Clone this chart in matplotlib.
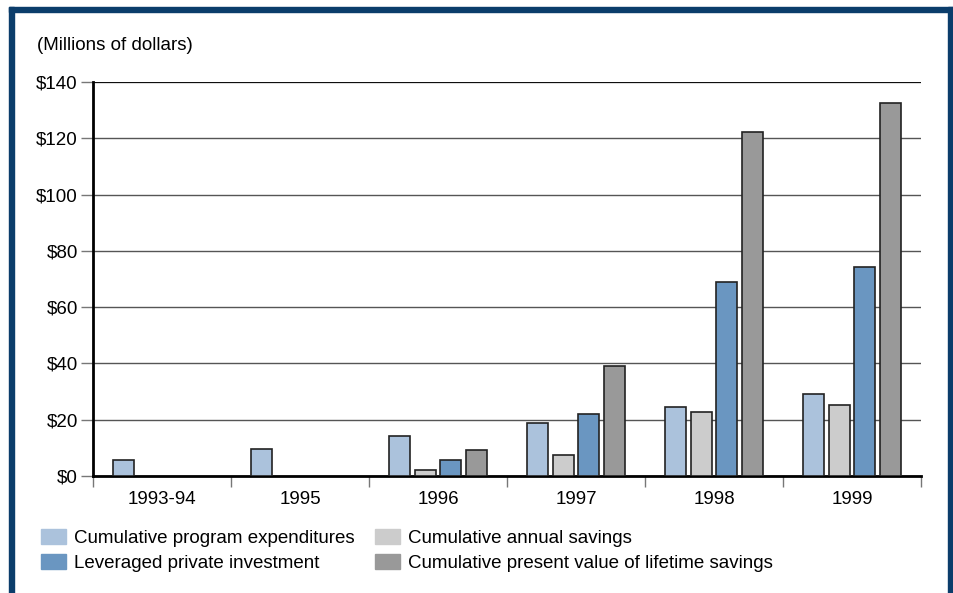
import matplotlib.pyplot as plt
import matplotlib.patches as mpatches
import numpy as np

plt.rcParams['font.family'] = ['Liberation Sans', 'DejaVu Sans']

years = ["1993-94", "1995", "1996", "1997", "1998", "1999"]
program_exp = [5.8, 9.6, 14.2, 18.7, 24.6, 29.0]
annual_sav = [0, 0, 2.1, 7.6, 22.8, 25.2]
leveraged = [0, 0, 5.7, 22.2, 69.1, 74.2]
pv_lifetime = [0, 0, 9.3, 39.0, 122.1, 132.7]

series = [
    ("Cumulative program expenditures", program_exp, "#abc2dc"),
    ("Cumulative annual savings", annual_sav, "#cccccc"),
    ("Leveraged private investment", leveraged, "#6a96c1"),
    ("Cumulative present value of lifetime savings", pv_lifetime, "#999999"),
]

fig = plt.figure(figsize=(9.54, 5.93), dpi=100)
fig.patch.set_facecolor("white")

# navy frame around the figure (left, top, right)
navy = "#0b3d6b"
fig.patches.append(mpatches.Rectangle((9/954, 0), 5/954, 1 - 7/593, transform=fig.transFigure,
                                      color=navy, zorder=0))
fig.patches.append(mpatches.Rectangle((9/954, 1 - 12/593), 944/954, 5/593, transform=fig.transFigure,
                                      color=navy, zorder=0))
fig.patches.append(mpatches.Rectangle((948/954, 0), 6/954, 1 - 7/593, transform=fig.transFigure,
                                      color=navy, zorder=0))

ax = fig.add_axes([93/954, 117/593, 828/954, 394/593])

x = np.arange(len(years))
width = 0.152
pitch = 0.188
for i, (name, vals, col) in enumerate(series):
    vals = np.array(vals, dtype=float)
    mask = vals > 0
    ax.bar(x[mask] + (i - 1.5) * pitch, vals[mask], width, color=col,
           edgecolor="#222222", linewidth=1.2, zorder=3, label=name)

ax.set_xlim(-0.5, len(years) - 0.5)
ax.set_ylim(0, 140)
ax.set_yticks(np.arange(0, 141, 20))
ax.set_yticklabels([f"${v}" for v in range(0, 141, 20)], fontsize=13.5)
ax.yaxis.grid(True, color="#555555", linewidth=1.0, zorder=0)
ax.axhline(140, color="black", linewidth=1.2, zorder=1)
ax.set_axisbelow(True)

ax.set_xticks(x)
ax.set_xticklabels(years, fontsize=13.5)
ax.set_xticks(np.arange(-0.5, len(years)), minor=True)
ax.tick_params(axis="x", which="major", length=0, pad=11)
ax.tick_params(axis="x", which="minor", length=8, width=1, color="#777777", direction="out")
ax.tick_params(axis="y", length=9, width=1, color="#777777", pad=2)

for s in ["top", "right"]:
    ax.spines[s].set_visible(False)
ax.spines["left"].set_linewidth(2)
ax.spines["bottom"].set_linewidth(2)

fig.text(37/954, 1 - 45/593, "(Millions of dollars)", fontsize=13.5, va="center", ha="left")

handles = [mpatches.Patch(color=c, label=n) for n, v, c in series]
order = [0, 2, 1, 3]
fig.legend([handles[k] for k in order], [series[k][0] for k in order],
           loc="upper left", bbox_to_anchor=(28/954, 1 - 516/593), ncol=2, frameon=False,
           fontsize=13.5, handlelength=1.3, handleheight=0.85, handletextpad=0.45,
           columnspacing=1.1, labelspacing=0.38, borderpad=0.2)

plt.savefig("out.png", dpi=100)
